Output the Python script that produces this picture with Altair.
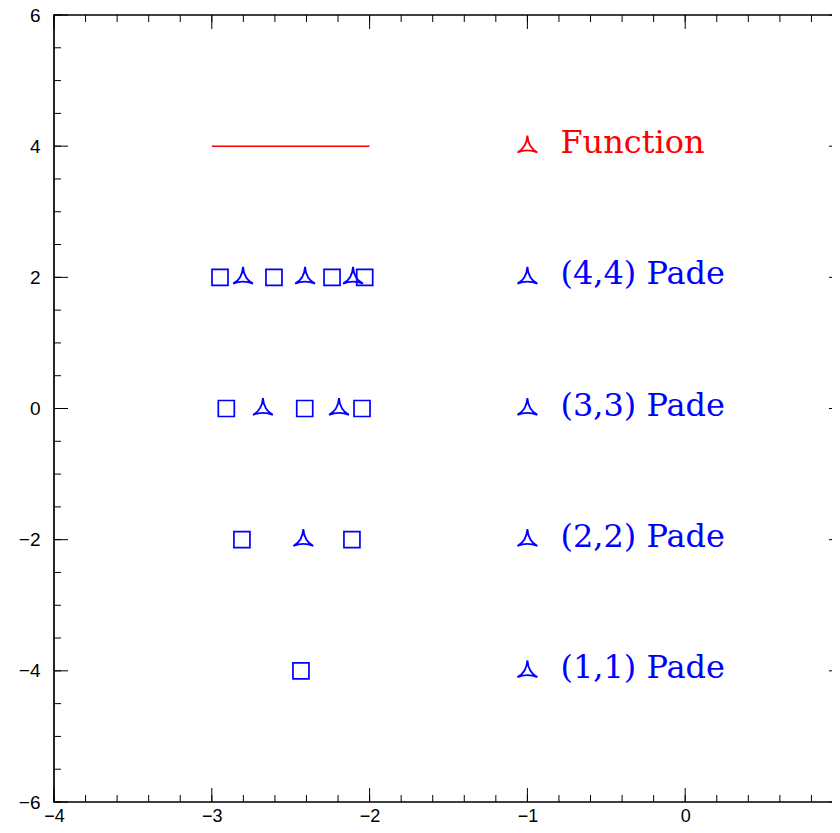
import altair as alt
import pandas as pd

# ---- data ----
sq_x = [-2.948, -2.606, -2.238, -2.031,   # (4,4)
        -2.908, -2.411, -2.048,           # (3,3)
        -2.809, -2.112,                   # (2,2)
        -2.435]                           # (1,1)
sq_y = [2, 2, 2, 2, 0, 0, 0, -2, -2, -4]

tri_x = [-2.802, -2.409, -2.105,   # (4,4)
         -2.676, -2.194,           # (3,3)
         -2.420]                   # (2,2)
tri_y = [2, 2, 2, 0, 0, -2]

leg_labels = ["Function", "(4,4) Pade", "(3,3) Pade", "(2,2) Pade", "(1,1) Pade"]
leg_y = [4, 2, 0, -2, -4]
leg_x = [-1, -1, -1, -1, -1]
leg_col = ["red", "blue", "blue", "blue", "blue"]

func_x = [-3, -2]
func_y = [4, 4]

x_major = [-4, -3, -2, -1, 0, 1]
x_minor = [round(-4 + 0.2 * i, 1) for i in range(26)]
y_major = [-6, -4, -2, 0, 2, 4, 6]
y_minor = [-6 + 0.5 * i for i in range(25)]

W, H = 789, 787
MAJ, MIN = 14, 7

colors = alt.Scale(domain=["red", "blue"], range=["#ff0000", "#0000ff"])
xs = alt.Scale(domain=[-4, 1], nice=False, zero=False)
ys = alt.Scale(domain=[-6, 6], nice=False, zero=False)
xaxis = alt.Axis(values=x_major, ticks=False, domain=False, grid=False, title=None,
                 labelFont="Liberation Sans", labelFontSize=18, labelColor="black",
                 labelPadding=5, labelFlush=False, labelOverlap=False, labelBound=False)
yaxis = alt.Axis(values=y_major, ticks=False, domain=False, grid=False, title=None,
                 labelFont="Liberation Sans", labelFontSize=19, labelColor="black",
                 labelPadding=14, labelFlush=False, labelOverlap=False, labelBound=False)


def X(f="x"):
    return alt.X(f"{f}:Q", scale=xs, axis=xaxis)


def Y(f="y"):
    return alt.Y(f"{f}:Q", scale=ys, axis=yaxis)


TRI = "M0,-1 Q0.08,0.15 0.95,0.6 Q0,0.22 -0.95,0.6 Q-0.08,0.15 0,-1 Z"

sq_df = pd.DataFrame({"x": sq_x, "y": sq_y})
tri_df = pd.DataFrame({"x": tri_x + leg_x, "y": tri_y + leg_y,
                       "c": ["blue"] * len(tri_x) + leg_col})
leg_df = pd.DataFrame({"x": leg_x, "y": leg_y, "label": leg_labels, "c": leg_col})
func_df = pd.DataFrame({"x": func_x, "y": func_y})

squares = alt.Chart(sq_df).mark_point(shape="square", size=256, filled=False,
                                      color="#0000ff", strokeWidth=1.7, opacity=1).encode(x=X(), y=Y())
tris = alt.Chart(tri_df).mark_point(shape=TRI, size=441, filled=False,
                                    strokeWidth=1.8, opacity=1).encode(
    x=X(), y=Y(), color=alt.Color("c:N", scale=colors, legend=None))
line = alt.Chart(func_df).mark_line(color="#ff0000", strokeWidth=1.5).encode(x=X(), y=Y())
texts = alt.Chart(leg_df).mark_text(align="left", baseline="alphabetic", dx=33, dy=7,
                                    font="DejaVu Serif", fontSize=32).encode(
    x=X(), y=Y(), text="label:N", color=alt.Color("c:N", scale=colors, legend=None))

layers = [line, squares, tris, texts]

def xticks(vals, L):
    df = pd.DataFrame({"v": vals})
    b = alt.Chart(df).mark_rule(color="black", strokeWidth=1).encode(
        x=X("v"), y=alt.value(H), y2=alt.value(H - L))
    t = alt.Chart(df).mark_rule(color="black", strokeWidth=1).encode(
        x=X("v"), y=alt.value(0), y2=alt.value(L))
    return [b, t]

def yticks(vals, L):
    df = pd.DataFrame({"v": vals})
    l = alt.Chart(df).mark_rule(color="black", strokeWidth=1).encode(
        y=Y("v"), x=alt.value(0), x2=alt.value(L))
    r = alt.Chart(df).mark_rule(color="black", strokeWidth=1).encode(
        y=Y("v"), x=alt.value(W), x2=alt.value(W - L))
    return [l, r]

layers += xticks(x_minor, MIN) + xticks(x_major, MAJ) + yticks(y_minor, MIN) + yticks(y_major, MAJ)

chart = alt.layer(*layers).properties(
    width=W, height=H,
    padding={"left": 46, "top": 7, "right": -11, "bottom": 23},
    autosize=alt.AutoSizeParams(type="none"),
    background="white",
).configure_view(stroke="black", strokeWidth=1.7)

chart.save("out.html", embed_options={"renderer": "svg", "actions": False})
